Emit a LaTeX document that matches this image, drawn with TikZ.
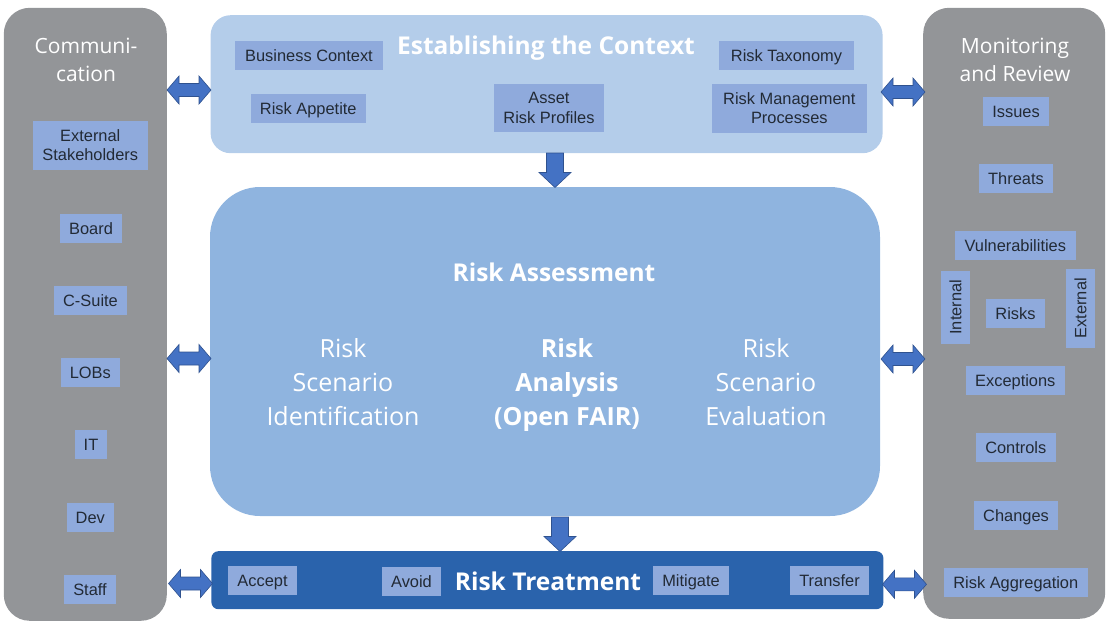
\documentclass[tikz,border=0pt]{standalone}
\usepackage{fontspec}
\setmainfont{Liberation Sans}
\newfontfamily\ttlfont{Open Sans}
\definecolor{panelgray}{HTML}{939598}
\definecolor{ctxblue}{HTML}{B4CDEA}
\definecolor{assblue}{HTML}{8FB4DF}
\definecolor{trtblue}{HTML}{2A63AC}
\definecolor{itemblue}{HTML}{8FAADC}
\definecolor{arrowblue}{HTML}{4472C4}
\definecolor{arrowedge}{HTML}{2F528F}
\definecolor{itemtext}{HTML}{222A35}
\begin{document}
\begin{tikzpicture}[x=1pt,y=-1pt,
  panel/.style={fill=panelgray, rounded corners=26pt, inner sep=0pt},
  bigbox/.style={inner sep=0pt},
  item/.style={fill=itemblue, text=itemtext, inner sep=0pt, align=center,
    font=\fontsize{16.4}{19.5}\selectfont, minimum height=29pt},
  item1/.style={item, text height=11.8pt, text depth=0pt},
  ttlw/.style={text=white, inner sep=0pt, align=center},
  bigttl/.style={ttlw, font=\ttlfont\bfseries\fontsize{24.5}{30}\selectfont},
  sidettl/.style={ttlw, font=\ttlfont\fontsize{21}{27.5}\selectfont},
  midtxt/.style={ttlw, font=\ttlfont\fontsize{25}{34}\selectfont},
  lrarrow/.pic={\filldraw[fill=arrowblue, draw=arrowedge, line width=0.6pt]
    (-22,0) -- (-10,-14) -- (-10,-6.5) -- (10,-6.5) -- (10,-14) -- (22,0)
    -- (10,14) -- (10,6.5) -- (-10,6.5) -- (-10,14) -- cycle;},
  downarrow/.pic={\filldraw[fill=arrowblue, draw=arrowedge, line width=0.6pt]
    (-8.5,0) -- (8.5,0) -- (8.5,19.5) -- (16,19.5) -- (0,34.5) -- (-16,19.5)
    -- (-8.5,19.5) -- cycle;}
]
\useasboundingbox (0,0) rectangle (1106,621);

% side panels
\node[panel, minimum width=163pt, minimum height=613pt] (comm) at (85.3,314.3) {};
\node[panel, minimum width=182pt, minimum height=611pt] (monit) at (1014.2,313.3) {};

% central boxes
\node[bigbox, fill=ctxblue, rounded corners=20pt, minimum width=672pt, minimum height=138pt] (ctx) at (546.6,84.2) {};
\node[bigbox, fill=assblue, rounded corners=50pt, minimum width=670pt, minimum height=329pt] (assess) at (545,351.5) {};
\node[bigbox, fill=trtblue, rounded corners=7pt, minimum width=672pt, minimum height=58pt] (treat) at (547.4,580.2) {};

% arrows
\pic (al1) at (189,90) {lrarrow};
\pic (al2) at (189,358.5) {lrarrow};
\pic (al3) at (190.5,583.5) {lrarrow};
\pic (ar1) at (903,92) {lrarrow};
\pic (ar2) at (903,359) {lrarrow};
\pic (ar3) at (904.5,584.3) {lrarrow};
\pic (ad1) at (555,153) {downarrow};
\pic (ad2) at (560,517) {downarrow};

% titles
\node[sidettl] (commttl) at (86,60) {Communi-\\cation};
\node[sidettl] (monttl) at (1015,60) {Monitoring\\and Review};
\node[bigttl] (ctxttl) at (546,48.5) {Establishing the Context};
\node[bigttl] (assttl) at (554,272.5) {Risk Assessment};
\node[bigttl] (trtttl) at (548,581) {Risk Treatment};

\node[midtxt] (rsi) at (343,382) {Risk\\Scenario\\Identification};
\node[midtxt, font=\ttlfont\bfseries\fontsize{25}{34}\selectfont] (rana) at (567,385) {Risk\\Analysis\\(Open FAIR)};
\node[midtxt] (rse) at (766,382) {Risk\\Scenario\\Evaluation};

% establishing the context items
\node[item1, minimum width=148pt] (bc) at (309,55.3) {Business Context};
\node[item1, minimum width=115pt] (ra) at (308.3,108.3) {Risk Appetite};
\node[item, minimum width=110pt, minimum height=48pt] (arp) at (549,108) {Asset\\Risk Profiles};
\node[item1, minimum width=135pt] (rt) at (786.5,55.5) {Risk Taxonomy};
\node[item, minimum width=155pt, minimum height=49pt] (rmp) at (789.3,108.3) {Risk Management\\Processes};

% communication items
\node[item, minimum width=115pt, minimum height=49pt] (ext) at (90.3,145.3) {External\\Stakeholders};
\node[item1, minimum width=62pt] (board) at (91,228.3) {Board};
\node[item1, minimum width=73pt] (csuite) at (90.5,300.5) {C-Suite};
\node[item1, minimum width=59pt] (lobs) at (90.3,372.3) {LOBs};
\node[item1, minimum width=32pt] (it) at (91,444.3) {IT};
\node[item1, minimum width=47pt] (dev) at (90.3,517.5) {Dev};
\node[item1, minimum width=52pt] (staff) at (90,589.5) {Staff};

% monitoring items
\node[item1, minimum width=66pt] (issues) at (1016,111.3) {Issues};
\node[item1, minimum width=74pt] (threats) at (1016,178.3) {Threats};
\node[item1, minimum width=121pt] (vuln) at (1015.3,245.3) {Vulnerabilities};
\node[item1, minimum width=73pt, minimum height=29pt, rotate=90] (internal) at (955.5,307.3) {Internal};
\node[item1, minimum width=59pt] (risks) at (1015.5,313.3) {Risks};
\node[item1, minimum width=79pt, minimum height=29pt, rotate=90] (external) at (1080.5,308.3) {External};
\node[item1, minimum width=99pt] (exc) at (1015.3,380.2) {Exceptions};
\node[item1, minimum width=80pt] (controls) at (1015.8,447.3) {Controls};
\node[item1, minimum width=84pt] (changes) at (1016,515.4) {Changes};
\node[item1, minimum width=144pt] (ragg) at (1015.8,582.5) {Risk Aggregation};

% treatment items
\node[item1, minimum width=69pt] (accept) at (262.5,580.5) {Accept};
\node[item1, minimum width=59pt] (avoid) at (411.5,581.3) {Avoid};
\node[item1, minimum width=76pt] (mitig) at (691,580.5) {Mitigate};
\node[item1, minimum width=79pt] (transf) at (829.5,580.5) {Transfer};
\end{tikzpicture}
\end{document}
